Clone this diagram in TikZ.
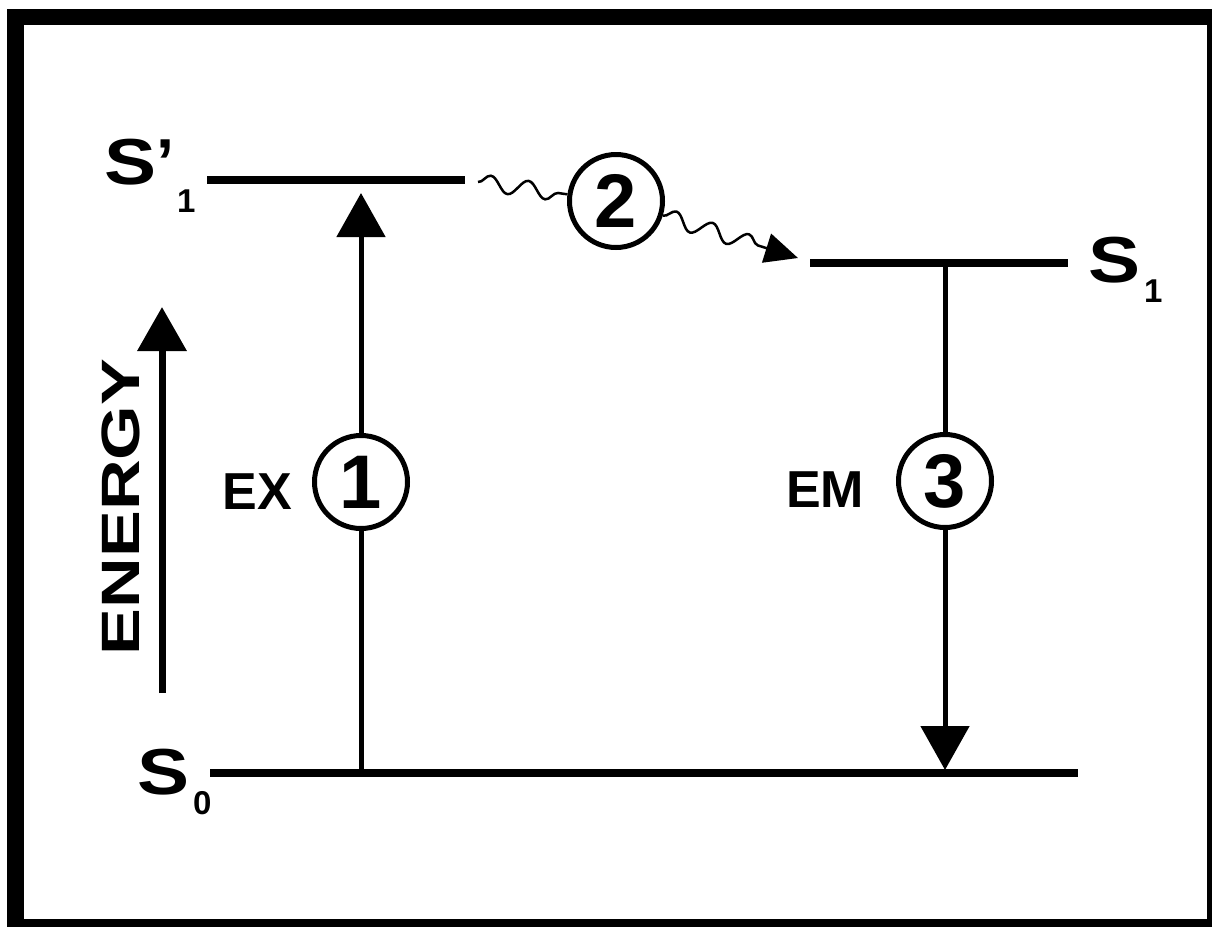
\documentclass[tikz,border=0pt]{standalone}
\usepackage{fontspec}
\setmainfont{Liberation Sans}
\usetikzlibrary{arrows.meta,positioning,decorations.pathmorphing}

\begin{document}
\begin{tikzpicture}[x=1pt,y=-1pt,
    lvl/.style={line width=8pt},
    trans/.style={line width=5pt},
    head/.style={-{Triangle[width=48pt,length=44pt]}},
    num/.style={circle,draw,line width=5pt,minimum size=93pt,inner sep=0pt,
      font=\fontsize{76}{76}\selectfont\bfseries},
    lbl/.style={inner sep=0pt,font=\fontsize{52}{52}\selectfont\bfseries},
    sym/.style={anchor=base west,inner sep=0pt,font=\fontsize{65}{65}\selectfont\bfseries},
    sub/.style={anchor=base west,inner sep=0pt,font=\fontsize{33}{33}\selectfont\bfseries},
    wavy/.style={line width=2.5pt,decorate,
      decoration={snake,amplitude=8pt,segment length=38pt,post length=3pt}}]
  \useasboundingbox (0,0) rectangle (1212,927);
  % frame
  \fill (7,9) rectangle (1212,927);
  \fill[white] (24,25) rectangle (1207,919);

  % levels
  \coordinate (sp0) at (207,180); \coordinate (sp1) at (465,180);
  \coordinate (s10) at (810,263); \coordinate (s11) at (1068,263);
  \coordinate (s00) at (210,773); \coordinate (s01) at (1078,773);
  \draw[lvl] (sp0) -- (sp1);
  \draw[lvl] (s10) -- (s11);
  \draw[lvl] (s00) -- (s01);

  \node[sym] (Sp) at (104,184) {\scalebox{1.2}[1]{S}’};
  \node[sub] (Sp1) at (177,212) {1};
  \node[sym] (S1) at (1088,282) {\scalebox{1.2}[1]{S}};
  \node[sub] (S11) at (1144,302) {1};
  \node[sym] (S0) at (137,794) {\scalebox{1.2}[1]{S}};
  \node[sub] (S00) at (193,814) {0};

  % energy axis
  \coordinate (en0) at (162,693); \coordinate (en1) at (162,307);
  \draw[line width=7pt,head] (en0) -- (en1);
  \node[lbl,rotate=90,font=\fontsize{54}{54}\selectfont\bfseries] (energy) at (121,507)
    {\scalebox{1.3}[1]{ENERGY}};

  % 1: excitation
  \coordinate (exb) at (361,773); \coordinate (ext) at (361,193);
  \node[num] (c1) at (361,482) {1};
  \node[lbl] (ex) at (257,492) {EX};
  \draw[trans] (exb) -- (c1);
  \draw[trans,head] (c1) -- (ext);

  % 2: relaxation
  \coordinate (w0) at (478,182); \coordinate (w1) at (798,258);
  \node[num] (c2) at (616,201) {2};
  \draw[wavy] (w0) -- (c2);
  \draw[wavy,decoration={post length=36pt},-{Triangle[width=30pt,length=33pt]}] (c2) -- (w1);

  % 3: emission
  \coordinate (emt) at (945,267); \coordinate (emb) at (945,770);
  \node[num] (c3) at (945,481) {3};
  \node[lbl] (em) at (825,490) {EM};
  \draw[trans] (emt) -- (c3);
  \draw[trans,head] (c3) -- (emb);
\end{tikzpicture}
\end{document}
